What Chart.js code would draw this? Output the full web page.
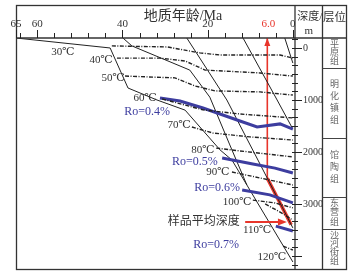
<!DOCTYPE html>
<html>
<head>
<meta charset="utf-8">
<script src="https://cdn.jsdelivr.net/npm/chart.js@4.4.0/dist/chart.umd.min.js"></script>
<style>
  body { margin: 0; background: #fff; }
</style>
</head>
<body>
<canvas id="myChart" width="359" height="277"></canvas>
<script>
// axes
var ageTicks = [65, 64, 60, 56, 52, 48, 44, 40, 36, 32, 28, 24, 20, 16, 12, 8, 4, 0];
var ageLabels = [65, 60, 40, 20, 0];
var depthLabels = [0, 1000, 2000, 3000];
var sampleAge = 6.0;

// isotherms [age Ma, depth m]
var t30 = [[42.5, -40], [29.5, -20], [21.8, 95], [17.1, 135], [3.0, 135], [0, 195]];
var t40 = [[41.3, 195], [31.2, 195], [25.3, 250], [20.6, 425], [7.7, 480], [0, 540]];
var t50 = [[39.4, 540], [27.7, 575], [23.0, 730], [18.3, 825], [7.7, 845], [0, 905]];
var t60 = [[30.7, 980], [21.1, 1190], [12.4, 1270], [0, 1345]];
var t70 = [[23.7, 1520], [18.8, 1635], [10.1, 1710], [0, 1770]];
var t80 = [[18.0, 1925], [12.4, 1980], [0, 2095]];
var t90 = [[14.3, 2385], [7.7, 2500], [0, 2635]];
var t100 = [[9.4, 2925], [4.2, 2980], [0, 3075]];
var t110 = [[6.5, 3000], [3.0, 3155], [0, 3310]];
var t120 = [[2.3, 3810], [0, 3885]];

// vitrinite reflectance lines
var ro04 = [[31.2, 960], [26.5, 1020], [21.1, 1155], [17.1, 1270], [13.1, 1385], [8.4, 1520], [3.0, 1460], [0, 1560]];
var ro05 = [[16.6, 2115], [9.4, 2230], [4.2, 2310], [0, 2405]];
var ro06 = [[11.9, 2730], [5.4, 2825], [0, 2980]];
var ro07 = [[4.0, 3425], [0, 3520]];

// burial curves
var s1 = [[65, -192], [42.9, 0], [38.7, 770], [31.9, 1000], [25.3, 1195], [17.1, 1960], [14.3, 2155], [0, 4115]];
var s2 = [[39.9, -192], [37.8, -40], [24.2, 425], [19.5, 945], [14.8, 1865], [10.8, 2635]];
var s3 = [[24.9, -192], [15.5, 1000], [8.2, 2155], [0, 3460]];
var s4 = [[11.7, -192], [3.7, 1000], [0, 1560]];
var s5 = [[1.9, -192], [0, 290]];

// sample average depth path
var sampleUp = [[sampleAge, -192], [sampleAge, 2505]];
var sampleDown = [[sampleAge, 2505], [0.4, 3400]];
var sampleDepth = 3346;

// stratigraphy
var formations = ['平原组', '明化镇组', '馆陶组', '东营组', '沙河街组'];
var formationBase = [385, 1730, 2865, 3480, 4231];

var isoNames = ['30℃', '40℃', '50℃', '60℃', '70℃', '80℃', '90℃', '100℃', '110℃', '120℃'];
var isoSpots = [[54.0, 77], [45.0, 231], [42.2, 577], [34.7, 962], [26.7, 1481], [21.1, 1962], [17.6, 2385], [13.1, 2962], [8.4, 3500], [4.9, 4019]];
var roNames = ['Ro=0.4%', 'Ro=0.5%', 'Ro=0.6%', 'Ro=0.7%'];
var roSpots = [[34.2, 1231], [23.0, 2193], [17.8, 2693], [18.0, 3789]];

var serif = "'Liberation Serif', 'DejaVu Serif', 'Noto Sans CJK SC', serif";
var ink = '#222';
var blue = '#3d3d9f';
var red = '#e8352b';

function pts(a) { return a.map(function (p) { return { x: p[0], y: p[1] }; }); }
function iso(a) { return { data: pts(a), borderColor: ink, borderWidth: 1.4, borderDash: [4, 1.5, 1, 1.5] }; }
function ro(a) { return { data: pts(a), borderColor: blue, borderWidth: 3 }; }
function solid(a) { return { data: pts(a), borderColor: ink, borderWidth: 1 }; }

var decor = {
    id: 'decor',
    afterDraw: function (chart) {
        var ctx = chart.ctx, xs = chart.scales.x, ys = chart.scales.y, ca = chart.chartArea;
        var X = function (v) { return xs.getPixelForValue(v); };
        var Y = function (v) { return ys.getPixelForValue(v); };
        function seg(x1, y1, x2, y2) { ctx.beginPath(); ctx.moveTo(x1, y1); ctx.lineTo(x2, y2); ctx.stroke(); }
        function txt(s, x, y, size, color, align) {
            ctx.font = size + 'px ' + serif; ctx.fillStyle = color;
            ctx.textAlign = align || 'center'; ctx.textBaseline = 'middle';
            ctx.fillText(s, x, y);
        }
        var L = 16.5, T = 5.5, R = 346.5, B = 269.5, colA = ca.right, colB = 322.5;
        ctx.save();
        ctx.strokeStyle = '#333'; ctx.lineWidth = 1.3;
        ctx.strokeRect(L, T, R - L, B - T);
        seg(L, ca.top, R, ca.top);
        seg(colA, T, colA, B);
        seg(colB, T, colB, B);

        // age ticks
        ctx.lineWidth = 1; ctx.strokeStyle = ink;
        ageTicks.forEach(function (v) {
            var x = Math.round(X(v)) + 0.5;
            var len = ageLabels.indexOf(v) >= 0 ? 8 : 5;
            seg(x, ca.top, x, ca.top - len);
        });
        ageLabels.forEach(function (v) { txt(String(v), X(v), 24, 11, '#333'); });
        txt(sampleAge.toFixed(1), X(sampleAge) + 1, 24, 11, red);
        txt('地质年龄/Ma', 183, 16, 14, '#333');

        // depth ticks
        var step = 1000 / 6;
        for (var d = -step; d <= ys.max; d += step) {
            var y = Math.round(Y(d)) + 0.5;
            var major = Math.abs(d / 1000 - Math.round(d / 1000)) < 1e-6;
            seg(colA - 3, y, colA + (major ? 7 : 3), y);
        }
        depthLabels.forEach(function (v) { txt(String(v), colA + 8, Y(v), 10, '#333', 'left'); });
        txt('深度/', (colA + colB) / 2 + 1, 17, 11, '#333');
        txt('m', (colA + colB) / 2, 31, 11, '#333');
        txt('层位', (colB + R) / 2, 18, 11.5, '#333');

        // formations
        ctx.strokeStyle = '#444'; ctx.lineWidth = 1;
        var top = ys.min;
        formations.forEach(function (name, i) {
            var base = formationBase[i];
            if (i < formations.length - 1) seg(colB, Math.round(Y(base)) + 0.5, R, Math.round(Y(base)) + 0.5);
            var mid = (Y(top) + Y(base)) / 2;
            var gap = Math.min(12, (Y(base) - Y(top)) / (name.length + 0.4));
            for (var k = 0; k < name.length; k++) {
                txt(name[k], (colB + R) / 2, mid + (k - (name.length - 1) / 2) * gap, 9, '#666');
            }
            top = base;
        });

        // labels
        isoNames.forEach(function (s, i) { txt(s, X(isoSpots[i][0]), Y(isoSpots[i][1]), 11, '#333'); });
        roNames.forEach(function (s, i) { txt(s, X(roSpots[i][0]), Y(roSpots[i][1]), 12, blue); });
        txt('样品平均深度', X(20.9), Y(sampleDepth), 12, '#333');

        // arrows
        ctx.fillStyle = red; ctx.strokeStyle = red; ctx.lineWidth = 2;
        var ax = X(sampleAge), ay = ca.top;
        ctx.beginPath(); ctx.moveTo(ax, ay); ctx.lineTo(ax - 3, ay + 8); ctx.lineTo(ax + 3, ay + 8); ctx.closePath(); ctx.fill();
        var hy = Y(sampleDepth), hx1 = X(11.2), hx2 = X(1.4);
        seg(hx1, hy, hx2 - 7, hy);
        ctx.beginPath(); ctx.moveTo(hx2, hy); ctx.lineTo(hx2 - 9, hy - 3.5); ctx.lineTo(hx2 - 9, hy + 3.5); ctx.closePath(); ctx.fill();
        ctx.restore();
    }
};

var ctx = document.getElementById('myChart').getContext('2d');
var myChart = new Chart(ctx, {
    type: 'scatter',
    data: {
        datasets: [
            iso(t30), iso(t40), iso(t50), iso(t60), iso(t70), iso(t80), iso(t90), iso(t100), iso(t110), iso(t120),
            ro(ro04), ro(ro05), ro(ro06), ro(ro07),
            solid(s1), solid(s2), solid(s3), solid(s4), solid(s5),
            { data: pts(sampleUp), borderColor: red, borderWidth: 1.6 },
            { data: pts(sampleDown), borderColor: red, borderWidth: 3.5 }
        ]
    },
    options: {
        responsive: false,
        animation: false,
        showLine: true,
        elements: { point: { radius: 0, hoverRadius: 0 }, line: { tension: 0 } },
        layout: { padding: { left: 16, right: 64, top: 38, bottom: 9 } },
        plugins: { legend: { display: false }, tooltip: { enabled: false } },
        events: [],
        scales: {
            x: { type: 'linear', min: -0.5, max: 65, reverse: true, display: false },
            y: { type: 'linear', min: -192, max: 4231, reverse: true, display: false }
        }
    },
    plugins: [decor]
});
</script>
</body>
</html>
